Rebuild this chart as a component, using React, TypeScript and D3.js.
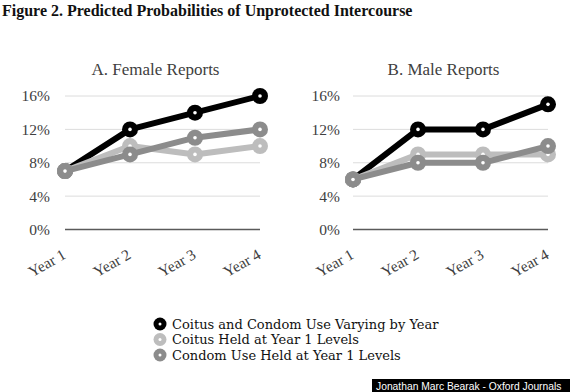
import React from 'react';
import * as d3 from 'd3';

const years = ['Year 1', 'Year 2', 'Year 3', 'Year 4'];
const yTicks = [0, 4, 8, 12, 16];

// percent values
const femaleVarying = [7, 12, 14, 16];
const femaleCoitusHeld = [7, 10, 9, 10];
const femaleCondomHeld = [7, 9, 11, 12];

const maleVarying = [6, 12, 12, 15];
const maleCoitusHeld = [6, 9, 9, 9];
const maleCondomHeld = [6, 8, 8, 10];

const seriesNames = [
  'Coitus and Condom Use Varying by Year',
  'Coitus Held at Year 1 Levels',
  'Condom Use Held at Year 1 Levels',
];
const seriesColors = ['#000000', '#bdbdbd', '#8c8c8c'];

const serif = '"Liberation Serif", "Times New Roman", serif';
const W = 570;
const H = 392;

type PanelProps = {
  title: string;
  x0: number;
  x1: number;
  labelX: number;
  series: number[][];
};

const Panel = ({ title, x0, x1, labelX, series }: PanelProps) => {
  const x = d3.scalePoint<string>().domain(years).range([x0, x1]).padding(0);
  const y = d3.scaleLinear().domain([0, 16]).range([229.5, 96]);
  const line = d3
    .line<number>()
    .x((_, i) => x(years[i]) as number)
    .y((d) => y(d));

  return (
    <g>
      <text
        x={(x0 + x1) / 2 - 7}
        y={75}
        textAnchor="middle"
        fontFamily={serif}
        fontSize={17}
        fill="#404040"
      >
        {title}
      </text>
      {yTicks.map((t) => (
        <g key={t}>
          <line
            x1={x0}
            x2={x1}
            y1={y(t)}
            y2={y(t)}
            stroke={t === 0 ? '#5a5a5a' : '#dcdcdc'}
            strokeWidth={t === 0 ? 1.5 : 1}
          />
          <text
            x={labelX}
            y={y(t)}
            dy="0.35em"
            textAnchor="end"
            fontFamily={serif}
            fontSize={15.5}
            fill="#404040"
          >
            {t}%
          </text>
        </g>
      ))}
      {years.map((yr) => (
        <text
          key={yr}
          transform={`translate(${(x(yr) as number) + 2},${y(0) + 28}) rotate(-30)`}
          textAnchor="end"
          fontFamily={serif}
          fontSize={15.5}
          fill="#404040"
        >
          {yr}
        </text>
      ))}
      {series.map((vals, si) => (
        <g key={si}>
          <path
            d={line(vals) || ''}
            fill="none"
            stroke={seriesColors[si]}
            strokeWidth={6}
            strokeLinejoin="round"
          />
          {vals.map((v, i) => (
            <g key={i}>
              <circle cx={x(years[i]) as number} cy={y(v)} r={8} fill={seriesColors[si]} />
              <circle cx={x(years[i]) as number} cy={y(v)} r={1.8} fill="#ffffff" />
            </g>
          ))}
        </g>
      ))}
    </g>
  );
};

const App = () => {
  return (
    <svg
      width={W}
      height={H}
      style={{ position: 'absolute', left: 0, top: 0, background: '#ffffff' }}
    >
      <rect width={W} height={H} fill="#ffffff" />
      <text x={2} y={16} fontFamily={serif} fontWeight="bold" fontSize={16} fill="#111">
        Figure 2. Predicted Probabilities of Unprotected Intercourse
      </text>
      <Panel
        title="A. Female Reports"
        x0={65}
        x1={260}
        labelX={50}
        series={[femaleVarying, femaleCoitusHeld, femaleCondomHeld]}
      />
      <Panel
        title="B. Male Reports"
        x0={353}
        x1={548}
        labelX={340}
        series={[maleVarying, maleCoitusHeld, maleCondomHeld]}
      />
      {seriesNames.map((name, i) => (
        <g key={name} transform={`translate(160,${324 + i * 15.5})`}>
          <circle r={6.5} fill={seriesColors[i]} />
          <circle r={1.5} fill="#ffffff" />
          <text
            x={12}
            dy="0.36em"
            fontFamily='"DejaVu Serif", serif'
            fontSize={13}
            fill="#111"
          >
            {name}
          </text>
        </g>
      ))}
      <rect x={372} y={379} width={W - 372} height={H - 379} fill="#000000" />
      <text
        x={376}
        y={389.5}
        fontFamily='"Liberation Sans", Arial, sans-serif'
        fontSize={10.3}
        fill="#ffffff"
      >
        Jonathan Marc Bearak - Oxford Journals
      </text>
    </svg>
  );
};

export default App;
